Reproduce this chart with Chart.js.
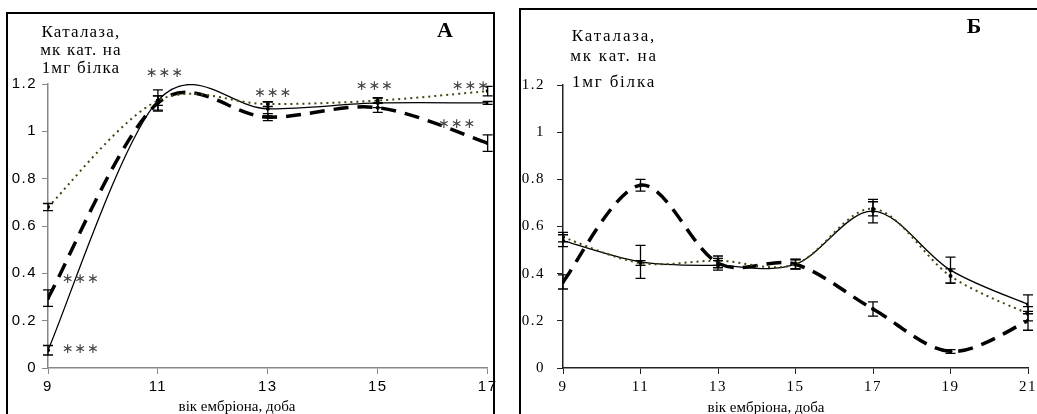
<!DOCTYPE html>
<html><head><meta charset="utf-8">
<script src="https://cdn.jsdelivr.net/npm/chart.js@4/dist/chart.umd.min.js"></script>
<style>
html,body{margin:0;padding:0;background:#fff;width:1037px;height:414px;overflow:hidden;position:relative}
.frame{position:absolute;border:2px solid #000;box-sizing:border-box}
canvas{position:absolute;left:0;top:0}
#wa{position:absolute;left:0;top:0;width:500px;height:414px}
#wb{position:absolute;left:515px;top:0;width:540px;height:414px}
</style></head><body>
<div class="frame" style="left:6px;top:12px;width:489px;height:430px"></div>
<div class="frame" style="left:519px;top:8px;width:560px;height:430px"></div>
<div id="wa"><canvas id="ca" width="500" height="414"></canvas></div>
<div id="wb"><canvas id="cb" width="540" height="414"></canvas></div>
<script>
// ---- data: panel А ----
const daysA = [9, 11, 13, 15, 17];
const solidA = [0.075, 1.13, 1.095, 1.12, 1.12];
const solidErrA = [0.02, 0.045, 0.03, 0.02, 0.006];
const dashedA = [0.295, 1.12, 1.06, 1.10, 0.95];
const dashedErrA = [0.035, 0.03, 0.015, 0.02, 0.035];
const dottedA = [0.68, 1.13, 1.115, 1.13, 1.17];
const dottedErrA = [0.015, 0.02, 0.01, 0.012, 0.02];
const starsXA = [11.13, 13.1, 14.95, 16.7, 16.45, 9.6, 9.6];
const starsYA = [1.245, 1.16, 1.19, 1.19, 1.03, 0.375, 0.08];
const xTicksA = [9, 11, 13, 15, 17];

// ---- data: panel Б ----
const daysB = [9, 11, 13, 15, 17, 19, 21];
const solidB = [0.54, 0.45, 0.435, 0.44, 0.665, 0.415, 0.27];
const solidErrB = [0.025, 0.07, 0.02, 0.02, 0.05, 0.055, 0.04];
const dashedB = [0.365, 0.775, 0.445, 0.44, 0.25, 0.07, 0.2];
const dashedErrB = [0.03, 0.025, 0.02, 0.02, 0.03, 0.008, 0.04];
const dottedB = [0.555, 0.445, 0.455, 0.44, 0.675, 0.39, 0.23];
const dottedErrB = [0.02, 0.01, 0.02, 0.02, 0.03, 0.03, 0.03];
const xTicksB = [9, 11, 13, 15, 17, 19, 21];

const yTicks = [0, 0.2, 0.4, 0.6, 0.8, 1, 1.2];
const yTickLabels = ['0', '0.2', '0.4', '0.6', '0.8', '1', '1.2'];
const yTitleLines = ['Каталаза,', 'мк кат. на', '1мг білка'];
const xTitle = 'вік ембріона, доба';

const pts = (xs, ys) => xs.map((x, i) => ({x: x, y: ys[i]}));

// Excel-like (Catmull-Rom) smoothing of the library's own computed points
const excelSmooth = {
  id: 'excelSmooth',
  beforeDraw(chart) { chart.ctx.letterSpacing = chart.options.plugins.texts.tickLs || '0px'; },
  beforeDatasetDraw(chart, args) {
    const meta = args.meta, line = meta.dataset, p = meta.data, n = p.length;
    line.updateControlPoints(chart.chartArea, 'x');
    for (let i = 0; i < n; i++) {
      const a = p[Math.max(i - 1, 0)], b = p[i], c = p[Math.min(i + 1, n - 1)];
      const dx = (c.x - a.x) / 6, dy = (c.y - a.y) / 6;
      b.cp1x = b.x - dx; b.cp1y = b.y - dy; b.cp2x = b.x + dx; b.cp2y = b.y + dy;
    }
  }
};

const errorBars = {
  id: 'errorBars',
  afterDatasetsDraw(chart) {
    const {ctx, scales: {x, y}} = chart;
    ctx.save();
    ctx.strokeStyle = '#000';
    ctx.lineWidth = 1.3;
    chart.data.datasets.forEach(ds => {
      if (!ds.errors) return;
      ds.data.forEach((p, i) => {
        const e = ds.errors[i];
        const px = x.getPixelForValue(p.x);
        const t = y.getPixelForValue(p.y + e), b = y.getPixelForValue(p.y - e);
        ctx.beginPath();
        ctx.moveTo(px, t); ctx.lineTo(px, b);
        ctx.moveTo(px - 5, t); ctx.lineTo(px + 5, t);
        ctx.moveTo(px - 5, b); ctx.lineTo(px + 5, b);
        ctx.stroke();
      });
    });
    ctx.restore();
  }
};

const texts = {
  id: 'texts',
  afterDraw(chart, args, opts) {
    const ctx = chart.ctx;
    ctx.save();
    (opts.items || []).forEach(it => {
      ctx.font = it.font;
      ctx.letterSpacing = it.ls || '0px';
      ctx.fillStyle = it.color || '#000';
      ctx.textAlign = 'center';
      ctx.textBaseline = 'alphabetic';
      ctx.fillText(it.text, it.x, it.y);
    });
    const s = opts.stars;
    if (s) {
      const {x, y} = chart.scales;
      ctx.font = '14px "DejaVu Sans"';
      ctx.letterSpacing = '1px';
      ctx.fillStyle = '#444';
      ctx.textAlign = 'center';
      ctx.textBaseline = 'middle';
      s.xs.forEach((v, i) => {
        ctx.fillText('∗∗∗', x.getPixelForValue(v), y.getPixelForValue(s.ys[i]));
      });
    }
    ctx.restore();
  }
};

function makeChart(id, cfg) {
  const solid = {data: pts(cfg.days, cfg.solid), errors: cfg.solidErr, borderColor: '#000', borderWidth: 1.3,
    pointRadius: 2, pointBackgroundColor: '#000', pointBorderWidth: 0, tension: 0.4};
  const dashed = {data: pts(cfg.days, cfg.dashed), errors: cfg.dashedErr, borderColor: '#000', borderWidth: 3.5,
    borderDash: [15, 9], pointRadius: 2, pointBackgroundColor: '#000', pointBorderWidth: 0, tension: 0.4};
  const dotted = {data: pts(cfg.days, cfg.dotted), errors: cfg.dottedErr, borderColor: '#45450f', borderWidth: 2,
    borderDash: [2, 4], pointRadius: 2, pointBackgroundColor: '#000', pointBorderWidth: 0, tension: 0.4};
  return new Chart(document.getElementById(id), {
    type: 'line',
    data: {datasets: [dotted, solid, dashed]},
    options: {
      responsive: false, animation: false, devicePixelRatio: 1,
      layout: {padding: {left: 0, top: cfg.top, right: cfg.right, bottom: 0}},
      plugins: {legend: {display: false}, tooltip: {enabled: false},
        texts: {items: cfg.items, stars: cfg.stars, tickLs: '1.5px'}},
      scales: {
        x: {type: 'linear', min: cfg.days[0], max: cfg.days[cfg.days.length - 1],
          afterBuildTicks: s => { s.ticks = cfg.xTicks.map(v => ({value: v})); },
          afterFit: s => { s.height = 46; },
          grid: {display: true, drawOnChartArea: false, drawTicks: true, tickLength: 6, color: cfg.axisColor},
          border: {display: true, color: cfg.axisColor, width: 1.5},
          ticks: {padding: 4, color: '#000', font: {family: cfg.tickFont, size: cfg.tickSize}, maxRotation: 0,
            callback: v => String(v)},
          title: {display: false}
        },
        y: {type: 'linear', min: 0, max: 1.2,
          afterBuildTicks: s => { s.ticks = yTicks.map(v => ({value: v})); },
          afterFit: s => { s.width = 48; },
          grid: {display: true, drawOnChartArea: false, drawTicks: true, tickLength: 6, color: cfg.axisColor},
          border: {display: true, color: cfg.axisColor, width: 1.5},
          ticks: {padding: cfg.yPad, color: '#000', font: {family: cfg.tickFont, size: cfg.tickSize},
            callback: v => yTickLabels[yTicks.indexOf(v)] ?? String(v)}
        }
      }
    },
    plugins: [excelSmooth, errorBars, texts]
  });
}

const serif17 = '17px "Liberation Serif"';
makeChart('ca', {
  days: daysA, solid: solidA, solidErr: solidErrA, dashed: dashedA, dashedErr: dashedErrA,
  dotted: dottedA, dottedErr: dottedErrA, xTicks: xTicksA, top: 84, right: 12, yPad: 5,
  axisColor: '#888', tickFont: 'Liberation Sans', tickSize: 15,
  stars: {xs: starsXA, ys: starsYA},
  items: [
    {text: yTitleLines[0], x: 81, y: 37, font: serif17, ls: '1.2px'},
    {text: yTitleLines[1], x: 81, y: 55, font: serif17, ls: '1.2px'},
    {text: yTitleLines[2], x: 81, y: 73, font: serif17, ls: '1.2px'},
    {text: 'А', x: 445, y: 37, font: 'bold 22px "Liberation Serif"', ls: '0px'},
    {text: xTitle, x: 237, y: 411, font: '15px "Liberation Serif"', ls: '0px'}
  ]
});

makeChart('cb', {
  days: daysB, solid: solidB, solidErr: solidErrB, dashed: dashedB, dashedErr: dashedErrB,
  dotted: dottedB, dottedErr: dottedErrB, xTicks: xTicksB, top: 85, right: 27, yPad: 12,
  axisColor: '#222', tickFont: 'Liberation Serif', tickSize: 15,
  items: [
    {text: yTitleLines[0], x: 99, y: 41, font: serif17, ls: '1.8px'},
    {text: yTitleLines[1], x: 99, y: 61, font: serif17, ls: '1.8px'},
    {text: yTitleLines[2], x: 99, y: 87, font: serif17, ls: '1.8px'},
    {text: 'Б', x: 459, y: 33, font: 'bold 22px "Liberation Serif"', ls: '0px'},
    {text: xTitle, x: 251, y: 412, font: '15px "Liberation Serif"', ls: '0px'}
  ]
});
</script>
</body></html>
